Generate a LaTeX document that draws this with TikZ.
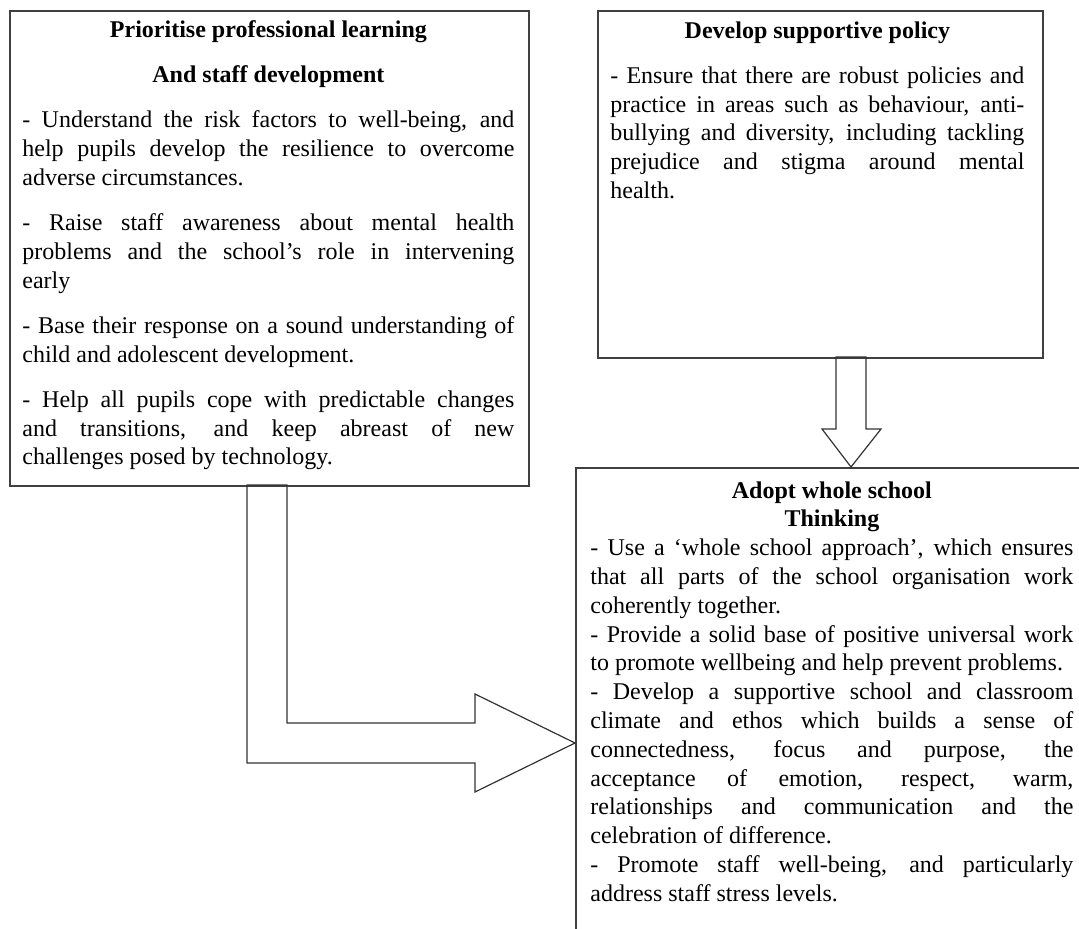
\documentclass[tikz,border=0pt]{standalone}
\usepackage{fontspec}
\setmainfont{Liberation Serif}
\usepackage{tikz}
\usetikzlibrary{calc}

\tikzset{
  box/.style={rectangle,draw=black!75,line width=0.8pt,inner sep=0pt,anchor=north west},
  boxtext/.style={inner sep=0pt,anchor=north west,align=justify,
    font=\fontsize{12}{14.4}\selectfont},
  gapped/.style={execute at begin node={\setlength{\parskip}{8.2pt}}},
  blockarrow/.style={draw=black!80,line width=0.6pt}
}

\begin{document}
\begin{tikzpicture}[x=0.5pt,y=-0.5pt]
\useasboundingbox (0,0) rectangle (1079,929);
\clip (0,0) rectangle (1079,929);

% the three boxes
\node [box,minimum width=259.5pt,minimum height=237.5pt] (learning) at (9,10) {};
\node [box,minimum width=222.5pt,minimum height=173.5pt] (policy) at (597,10) {};
\node [box,minimum width=257.5pt,minimum height=250pt] (adopt) at (575,467) {};

\node [boxtext,gapped,text width=246pt] (learningtext) at (22,20) {%
  {\centering\bfseries Prioritise professional learning\par}
  {\centering\bfseries And staff development\par}
  - Understand the risk factors to well-being, and\linebreak help pupils develop the resilience to overcome\linebreak adverse circumstances.\par
  - Raise staff awareness about mental health\linebreak problems and the school's role in intervening\linebreak early\par
  - Base their response on a sound understanding of\linebreak child and adolescent development.\par
  - Help all pupils cope with predictable changes\linebreak and transitions, and keep abreast of new\linebreak challenges posed by technology.};

\node [boxtext,gapped,text width=207pt] (policytext) at (610,21) {%
  {\centering\bfseries Develop supportive policy\par}
  - Ensure that there are robust policies and\linebreak practice in areas such as behaviour, anti-\linebreak bullying and diversity, including tackling\linebreak prejudice and stigma around mental\linebreak health.};

\node [boxtext,text width=241.5pt] (adopttext) at (590,481) {%
  {\centering\bfseries Adopt whole school\par Thinking\par}
  - Use a `whole school approach', which ensures\linebreak that all parts of the school organisation work\linebreak coherently together.\par
  - Provide a solid base of positive universal work\linebreak to promote wellbeing and help prevent problems.\par
  - Develop a supportive school and classroom\linebreak climate and ethos which builds a sense of\linebreak connectedness, focus and purpose, the\linebreak acceptance of emotion, respect, warm,\linebreak relationships and communication and the\linebreak celebration of difference.\par
  - Promote staff well-being, and particularly\linebreak address staff stress levels.};

% block arrows
\coordinate (downtip) at ($(adopt.north west)+(276,0)$);
\coordinate (lefttip) at ($(adopt.north west)+(0,276)$);

\draw [blockarrow] (downtip) -- ++(-29,-38) -- ++(14,0) -- ++(0,-72)
  -- ++(30,0) -- ++(0,72) -- ++(15,0) -- cycle;

\draw [blockarrow] (lefttip) -- ++(-100,-49) -- ++(0,29) -- ++(-188,0)
  -- ++(0,-238) -- ++(-40,0) -- ++(0,278) -- ++(228,0) -- ++(0,29) -- cycle;
\end{tikzpicture}
\end{document}
